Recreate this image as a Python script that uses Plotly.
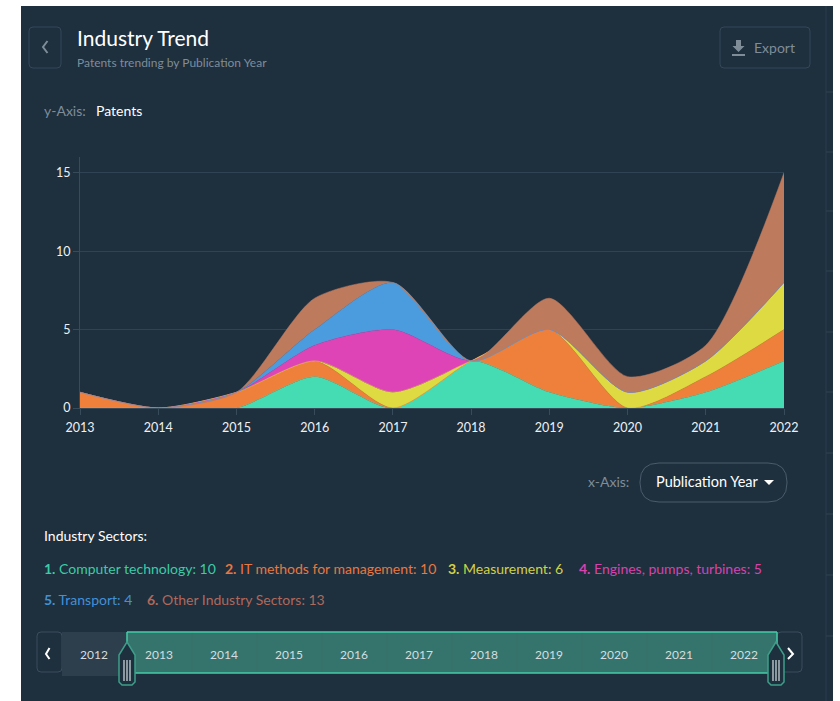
import plotly.graph_objects as go

W, H = 840, 701
FONT = "Lato"

years = [2013, 2014, 2015, 2016, 2017, 2018, 2019, 2020, 2021, 2022]
computer_technology = [0, 0, 0, 2, 0, 3, 1, 0, 1, 3]
it_methods = [1, 0, 1, 1, 0, 0, 4, 0, 1, 2]
measurement = [0, 0, 0, 0, 1, 0, 0, 1, 1, 3]
engines = [0, 0, 0, 1, 4, 0, 0, 0, 0, 0]
transport = [0, 0, 0, 1, 3, 0, 0, 0, 0, 0]
other_sectors = [0, 0, 0, 2, 0, 0, 2, 1, 1, 7]

sector_names = ["Computer technology", "IT methods for management", "Measurement",
                "Engines, pumps, turbines", "Transport", "Other Industry Sectors"]
sector_totals = [10, 10, 6, 5, 4, 13]
sector_values = [computer_technology, it_methods, measurement, engines, transport, other_sectors]
area_colors = ["#45DCB4", "#EE803B", "#DEDA42", "#DE44B6", "#4A9CDF", "#BE7A5C"]
legend_colors = ["#3CCBA6", "#E9773F", "#D3D145", "#D643AE", "#4291D8", "#B0695A"]
slider_years = [2012, 2013, 2014, 2015, 2016, 2017, 2018, 2019, 2020, 2021, 2022]
side_rule_rows = [92, 152, 211, 271, 332, 392, 453, 514, 575, 636]

PANEL = "#1E2F3E"
BORDER = "#33485A"
MUTED = "#7F8D99"
TEAL = "#45CDA8"
AXIS = "#374B5A"


def px(x):
    return x / W


def py(y):
    return 1 - y / H


def rect(x0, y0, x1, y1, fill=None, line=None, width=1, radius=0):
    """Paper-space box given in pixels, optionally with rounded corners."""
    r = radius
    if r:
        path = (f"M{px(x0 + r)},{py(y0)} L{px(x1 - r)},{py(y0)} Q{px(x1)},{py(y0)} {px(x1)},{py(y0 + r)} "
                f"L{px(x1)},{py(y1 - r)} Q{px(x1)},{py(y1)} {px(x1 - r)},{py(y1)} "
                f"L{px(x0 + r)},{py(y1)} Q{px(x0)},{py(y1)} {px(x0)},{py(y1 - r)} "
                f"L{px(x0)},{py(y0 + r)} Q{px(x0)},{py(y0)} {px(x0 + r)},{py(y0)} Z")
        shape = dict(type="path", path=path)
    else:
        shape = dict(type="rect", x0=px(x0), x1=px(x1), y0=py(y0), y1=py(y1))
    shape.update(xref="paper", yref="paper", layer="below",
                 fillcolor=fill or "rgba(0,0,0,0)",
                 line=dict(color=line or "rgba(0,0,0,0)", width=width if line else 0))
    return shape


def poly(points, fill=None, line=None, width=1, close=False, layer="above"):
    """Paper-space polyline given in pixels."""
    d = "M" + " L".join(f"{px(a)},{py(b)}" for a, b in points) + (" Z" if close else "")
    return dict(type="path", path=d, xref="paper", yref="paper", layer=layer,
                fillcolor=fill or "rgba(0,0,0,0)",
                line=dict(color=line or "rgba(0,0,0,0)", width=width if line else 0))


def label(x, y, text, color="#FFFFFF", size=14, anchor="left"):
    nudge = -2 if anchor == "left" else 0
    return dict(x=px(x + nudge), y=py(y), xref="paper", yref="paper", text=text, showarrow=False,
                xanchor=anchor, yanchor="middle", align=anchor,
                font=dict(family=FONT, size=size, color=color))


def handle(cx):
    """Slider grip: a pointed tab with three bars."""
    pts = [(cx, 642), (cx + 8, 655), (cx + 8, 682), (cx + 5, 685), (cx - 5, 685), (cx - 8, 682), (cx - 8, 655)]
    grip = [poly(pts, fill=PANEL, line="#3E9E8A", width=1.5, close=True)]
    for dx in (-3, 0, 3):
        grip.append(poly([(cx + dx, 660), (cx + dx, 681)], line="#C9D2D6", width=1.3))
    return grip


fig = go.Figure()
for name, values, color in zip(sector_names, sector_values, area_colors):
    fig.add_trace(go.Scatter(
        x=years, y=values, name=name, stackgroup="one", mode="lines",
        line=dict(shape="spline", smoothing=0.7, width=0.5, color=color),
        fillcolor=color, hoverinfo="x+y+name", cliponaxis=True,
    ))

shapes = [
    rect(21, 6, 833, H, fill=PANEL),
    rect(29, 27, 61, 68, line=BORDER, radius=4),
    rect(720, 27, 810, 68, line=BORDER, radius=4),
    rect(640, 463, 787, 502, line="#4A5C6B", radius=19),
    # back chevron, download icon and dropdown caret
    poly([(47.5, 41), (43, 47), (47.5, 53)], line=MUTED, width=2),
    poly([(736, 40), (741, 40), (741, 46), (744.5, 46), (738.5, 52), (732.5, 46), (736, 46)], fill=MUTED, close=True),
    poly([(732, 55), (745, 55)], line=MUTED, width=2),
    poly([(764, 480), (774, 480), (769, 485)], fill="#FFFFFF", close=True),
    # right-hand rule strip
    poly([(826, 6), (826, H)], line="#2A3D4C", width=1, layer="below"),
    # range slider
    rect(37, 632, 62, 672, line="#3A4D5D", radius=4),
    rect(777, 632, 802, 672, line="#3A4D5D", radius=4),
    rect(62, 632, 127, 676, fill="#2D3E4C"),
    rect(127, 632, 777, 673, fill="#35746C"),
    poly([(127, 632), (777, 632)], line=TEAL, width=1.5),
    poly([(127, 673), (777, 673)], line=TEAL, width=1.5),
    poly([(127, 632), (127, 645)], line=TEAL, width=1.5),
    poly([(777, 632), (777, 645)], line=TEAL, width=1.5),
    poly([(49.5, 648), (46, 654), (49.5, 659)], line="#FFFFFF", width=2),
    poly([(788, 648), (793, 654), (788, 659)], line="#FFFFFF", width=2),
]
for row in side_rule_rows:
    shapes.append(poly([(826, row), (833, row)], line="#2F4454", width=1, layer="below"))
for i in range(1, 10):
    bx = 127 + 65 * i
    shapes.append(poly([(bx, 633), (bx, 672)], line="#397069", width=1, layer="below"))
shapes += handle(127) + handle(776)

annotations = [
    label(77, 38, "Industry Trend", size=21),
    label(77, 62, "Patents trending by Publication Year", color=MUTED, size=12),
    label(44, 111, "y-Axis:", color=MUTED, size=14),
    label(96, 111, "Patents", size=14),
    label(754, 47, "Export", color=MUTED, size=14),
    label(588, 481, "x-Axis:", color=MUTED, size=14),
    label(656, 481, "Publication Year", size=14.5),
    label(44, 535, "Industry Sectors:", size=14),
]
legend_positions = [(44, 568), (225, 568), (448, 568), (579, 568), (44, 599), (147, 599)]
for i, (name, total, color, (lx, ly)) in enumerate(zip(sector_names, sector_totals, legend_colors, legend_positions)):
    annotations.append(label(lx, ly, f"<b>{i + 1}.</b> {name}: {total}", color=color, size=14))
for i, yr in enumerate(slider_years):
    annotations.append(label(94 + 65 * i, 654, str(yr), color="#D5DDE0", size=12, anchor="center"))

fig.update_layout(
    width=W, height=H, margin=dict(l=0, r=0, t=0, b=0, autoexpand=False),
    paper_bgcolor="#FFFFFF", plot_bgcolor="rgba(0,0,0,0)", showlegend=False,
    shapes=shapes, annotations=annotations,
    font=dict(family=FONT, color="#FFFFFF"),
    xaxis=dict(domain=[px(80), px(784)], range=[2013, 2022], tickmode="array", tickvals=years,
               ticks="outside", ticklen=6, tickcolor=AXIS, showline=True, linecolor=AXIS,
               showgrid=False, zeroline=False, ticklabelstandoff=2,
               tickfont=dict(size=12.5, color="#EEF1F2")),
    yaxis=dict(domain=[py(408), py(157)], range=[0, 16], tickvals=[0, 5, 10, 15],
               ticks="outside", ticklen=6, tickcolor=AXIS, showline=True, linecolor=AXIS,
               gridcolor="#2E4353", gridwidth=1, zeroline=False,
               tickfont=dict(size=12.5, color="#EEF1F2")),
)

fig.write_html("out.html", config=dict(displayModeBar=False))
